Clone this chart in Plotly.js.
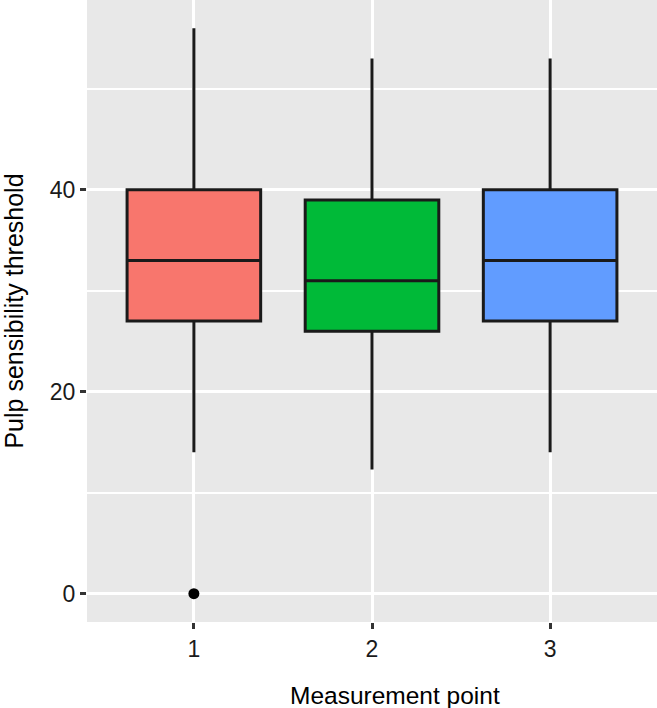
<!DOCTYPE html>
<html>
<head>
<meta charset="utf-8">
<script src="https://cdn.plot.ly/plotly-3.0.1.min.js"></script>
<style>html,body{margin:0;padding:0;background:#fff;}#chart{width:657px;height:708px;}</style>
</head>
<body>
<div id="chart"></div>
<script>
// Data
const points = [1, 2, 3];
const pointLabels = ['1', '2', '3'];
const q1 = [27, 26, 27];
const medians = [33, 31, 33];
const q3 = [40, 39, 40];
const lowerWhisker = [14, 12.3, 14];
const upperWhisker = [56, 53, 53];
const outlierX = [1];
const outlierY = [0];
const fillColors = ['#F8766D', '#00BA38', '#619CFF'];

const traces = points.map((p, i) => ({
  type: 'box',
  x: [p],
  q1: [q1[i]],
  median: [medians[i]],
  q3: [q3[i]],
  lowerfence: [lowerWhisker[i]],
  upperfence: [upperWhisker[i]],
  width: 0.75,
  whiskerwidth: 0,
  fillcolor: fillColors[i],
  line: {color: '#1a1a1a', width: 3},
  boxpoints: false,
  showlegend: false,
  hoverinfo: 'y'
}));

traces.push({
  type: 'scatter',
  mode: 'markers',
  x: outlierX,
  y: outlierY,
  marker: {color: '#000000', size: 11},
  showlegend: false
});

const layout = {
  width: 657,
  height: 708,
  margin: {l: 87, r: 0, t: 0, b: 86},
  paper_bgcolor: '#ffffff',
  plot_bgcolor: '#E8E8E8',
  boxmode: 'overlay',
  font: {family: 'Liberation Sans, Arial, sans-serif', color: '#000'},
  xaxis: {
    range: [0.4, 3.6],
    tickvals: points,
    ticktext: pointLabels,
    showgrid: true,
    gridcolor: '#ffffff',
    gridwidth: 3,
    zeroline: false,
    showline: false,
    ticks: 'outside',
    ticklen: 6,
    tickwidth: 3,
    tickcolor: '#333333',
    tickfont: {size: 23, color: '#1a1a1a'},
    fixedrange: true
  },
  yaxis: {
    range: [-2.8, 58.8],
    tickvals: [0, 20, 40],
    ticktext: ['0', '20', '40'],
    showgrid: true,
    gridcolor: '#ffffff',
    gridwidth: 3,
    minor: {tickvals: [10, 30, 50], showgrid: true, gridcolor: '#ffffff', gridwidth: 2, ticks: ''},
    zeroline: false,
    showline: false,
    ticks: 'outside',
    ticklen: 6,
    tickwidth: 3,
    tickcolor: '#333333',
    tickfont: {size: 23, color: '#1a1a1a'},
    title: {text: 'Pulp sensibility threshold', font: {size: 25, color: '#000'}, standoff: 22},
    fixedrange: true
  },
  annotations: [{
    text: 'Measurement point',
    xref: 'paper', yref: 'paper',
    x: 0.54, y: 0,
    xanchor: 'center', yanchor: 'top',
    yshift: -58,
    showarrow: false,
    font: {size: 24.5, color: '#000'}
  }]
};

Plotly.newPlot('chart', traces, layout, {displayModeBar: false, staticPlot: true});
</script>
</body>
</html>
